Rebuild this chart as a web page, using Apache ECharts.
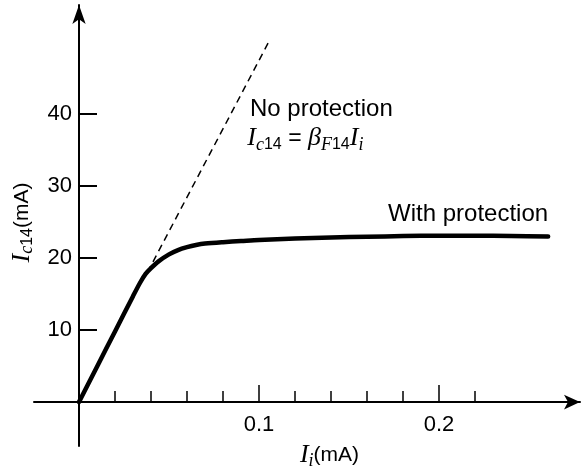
<!DOCTYPE html>
<html><head><meta charset="utf-8">
<script src="https://cdn.jsdelivr.net/npm/echarts@6/dist/echarts.min.js"></script>
<style>html,body{margin:0;padding:0;background:#fff}#c{width:582px;height:469px}</style>
</head><body><div id="c"></div>
<script>
// ---- data ----
const withProtX = [0, 0.01, 0.02, 0.03, 0.034, 0.037, 0.04, 0.044, 0.05, 0.055, 0.06, 0.065, 0.07, 0.08, 0.09, 0.1, 0.12, 0.14, 0.16, 0.18, 0.2, 0.22, 0.24, 0.2606];
const withProtY = [0, 4.9, 9.8, 14.7, 16.6, 17.8, 18.6, 19.5, 20.5, 21.1, 21.5, 21.8, 22.0, 22.2, 22.35, 22.5, 22.7, 22.85, 22.95, 23.05, 23.1, 23.1, 23.05, 23.0];
const noProtX = [0.038, 0.106];
const noProtY = [18.0, 50.3];
const xMinorTicks = [0.02, 0.04, 0.06, 0.08, 0.12, 0.14, 0.16, 0.18, 0.22];
const xMajorTicks = [0.1, 0.2];
const xTickLabels = [0.1, 0.2];
const yTicks = [10, 20, 30, 40];
const yTickLabels = [10, 20, 30, 40];

const SANS = '"Liberation Sans", Arial, Helvetica, sans-serif';
const SERIF = '"Liberation Serif", "Times New Roman", serif';

const zip = (xs, ys) => xs.map((x, i) => [x, ys[i]]);

const mainSty = {fontFamily: SERIF, fontStyle: 'italic', fontSize: 26, lineHeight: 28, color: '#000'};
const subSerif = {fontFamily: SERIF, fontStyle: 'italic', fontSize: 18, lineHeight: 18, padding: [13, 0, 0, 0], color: '#000'};
const subSans = {fontFamily: SANS, fontSize: 16, lineHeight: 16, padding: [13, 0, 0, 0], color: '#000'};
const eqSty = {fontFamily: SANS, fontSize: 23, lineHeight: 28, color: '#000'};

const nameMain = {fontFamily: SERIF, fontStyle: 'italic', fontSize: 26, lineHeight: 26, color: '#000'};
const nameSubSerif = {fontFamily: SERIF, fontStyle: 'italic', fontSize: 18, lineHeight: 18, padding: [11, 0, 0, 0], color: '#000'};
const nameSubSans = {fontFamily: SANS, fontSize: 16, lineHeight: 16, padding: [11, 0, 0, 0], color: '#000'};
const nameSans = {fontFamily: SANS, fontSize: 21, lineHeight: 26, color: '#000'};

const axisLineStyle = {color: '#000', width: 2};
const tickLabelStyle = {fontSize: 22, fontFamily: SANS, color: '#000'};

const option = {
  backgroundColor: '#fff',
  animation: false,
  grid: [
    // grid 0: only the axis lines, extended past the origin, with arrows
    {left: 34, right: 2, top: 5, bottom: 23, containLabel: false, outerBoundsMode: 'none'},
    // grid 1: plotting area with ticks, labels, names
    {left: 79, right: 2, top: 5, bottom: 67, containLabel: false, outerBoundsMode: 'none'}
  ],
  xAxis: [{
    gridIndex: 0, type: 'value', min: -0.025, max: 0.2783,
    axisLine: {show: true, onZero: true, lineStyle: axisLineStyle, symbol: ['none', 'arrow'], symbolSize: [11, 16]},
    axisTick: {show: false}, axisLabel: {show: false}, splitLine: {show: false}
  }, {
    gridIndex: 1, type: 'value', min: 0, max: 0.2783,
    axisLine: {show: false, onZero: false},
    axisTick: {show: true, inside: true, length: 11, customValues: xMinorTicks, lineStyle: {color: '#000', width: 1.5}},
    axisLabel: Object.assign({show: true, customValues: xTickLabels, margin: 12}, tickLabelStyle),
    splitLine: {show: false},
    name: '{I|I}{s|i}{t|(mA)}', nameLocation: 'middle', nameGap: 39,
    nameTextStyle: {rich: {I: nameMain, s: nameSubSerif, t: nameSans}}
  }, {
    gridIndex: 1, type: 'value', min: 0, max: 0.2783, position: 'bottom',
    axisLine: {show: false, onZero: false},
    axisTick: {show: true, inside: true, length: 17, customValues: xMajorTicks, lineStyle: {color: '#000', width: 1.5}},
    axisLabel: {show: false}, splitLine: {show: false}
  }],
  yAxis: [{
    gridIndex: 0, type: 'value', min: -6.1, max: 55.14,
    axisLine: {show: true, onZero: true, lineStyle: axisLineStyle, symbol: ['none', 'arrow'], symbolSize: [10, 19]},
    axisTick: {show: false}, axisLabel: {show: false}, splitLine: {show: false}
  }, {
    gridIndex: 1, type: 'value', min: 0, max: 55.14,
    axisLine: {show: false, onZero: false},
    axisTick: {show: true, inside: true, length: 18, customValues: yTicks, lineStyle: {color: '#000', width: 2}},
    axisLabel: Object.assign({show: true, customValues: yTickLabels, margin: 7}, tickLabelStyle),
    splitLine: {show: false},
    name: '{I|I}{s|c}{n|14}{t|(mA)}', nameLocation: 'middle', nameGap: 42,
    nameTextStyle: {padding: [0, 38, 0, 0], rich: {I: nameMain, s: nameSubSerif, n: nameSubSans, t: nameSans}}
  }],
  series: [{
    name: 'With protection', type: 'line', xAxisIndex: 1, yAxisIndex: 1,
    data: zip(withProtX, withProtY), smooth: 0.3, showSymbol: false, symbol: 'none',
    lineStyle: {color: '#000', width: 4.5, cap: 'round', join: 'round'},
    markPoint: {
      symbol: 'circle', symbolSize: 0, silent: true,
      data: [{coord: [0.2606, 26.0], label: {show: true, position: 'left', distance: 0, formatter: 'With protection', fontFamily: SANS, fontSize: 24, color: '#000'}}]
    }
  }, {
    name: 'No protection', type: 'line', xAxisIndex: 1, yAxisIndex: 1,
    data: zip(noProtX, noProtY), showSymbol: false, symbol: 'none',
    lineStyle: {color: '#000', width: 1.5, type: [7, 5]},
    markPoint: {
      symbol: 'circle', symbolSize: 0, silent: true,
      data: [
        {coord: [0.095, 40.6], label: {show: true, position: 'right', distance: 0, formatter: 'No protection', fontFamily: SANS, fontSize: 24, color: '#000'}},
        {coord: [0.0935, 36.6], label: {show: true, position: 'right', distance: 0,
          formatter: '{I|I}{s|c}{n|14}{eq| = }{I|β}{s|F}{n|14}{I|I}{s|i}',
          rich: {I: mainSty, s: subSerif, n: subSans, eq: eqSty}}}
      ]
    }
  }]
};

const chart = echarts.init(document.getElementById('c'), null, {renderer: 'canvas'});
chart.setOption(option);
</script>
</body></html>
